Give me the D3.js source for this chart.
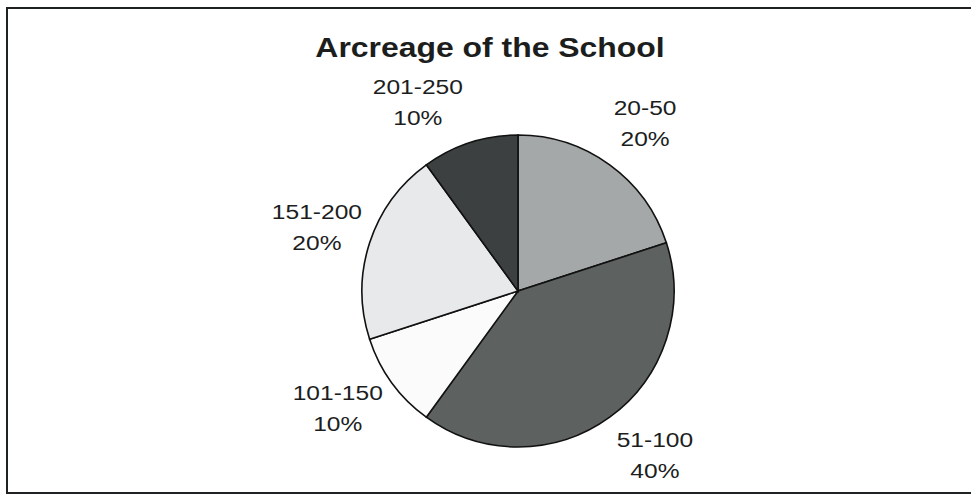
<!DOCTYPE html>
<html>
<head>
<meta charset="utf-8">
<script src="https://cdn.jsdelivr.net/npm/d3@7"></script>
<style>
  body { margin: 0; background: #fff; overflow: hidden; }
  text { font-family: "Liberation Sans", Arial, sans-serif; }
</style>
</head>
<body>
<div id="chart"></div>
<script>
const width = 971;
const height = 495;

// Data
const categories = ["20-50", "51-100", "101-150", "151-200", "201-250"];
const values = [20, 40, 10, 20, 10];
const colors = ["#a4a8a8", "#5d6160", "#fbfbfb", "#e8e9eb", "#3d4040"];

// label placement (degrees clockwise from top, distance from centre)
const labelAngles = [38.3, 141.3, 235.4, 285.8, 331.2];
const labelRadii = [205, 219, 219, 209, 208];

const cx = 518, cy = 291, radius = 156;

const svg = d3.select("#chart")
    .append("svg")
    .attr("width", width)
    .attr("height", height)
    .style("display", "block");

// frame (left, top, bottom; right edge is cut off in the scan)
svg.append("path")
    .attr("d", "M980,8H7V493H980")
    .attr("fill", "none")
    .attr("stroke", "#1e2222")
    .attr("stroke-width", 2);

// Title (scan is slightly stretched horizontally)
svg.append("text")
    .attr("transform", "translate(490,57) scale(1.14,1)")
    .attr("text-anchor", "middle")
    .attr("font-size", 28)
    .attr("font-weight", "bold")
    .attr("fill", "#1c1e1e")
    .text("Arcreage of the School");

const pie = d3.pie().sort(null).value(d => d);
const arcs = pie(values);
const arc = d3.arc().innerRadius(0).outerRadius(radius);

const g = svg.append("g")
    .attr("transform", `translate(${cx},${cy})`);

g.selectAll("path")
    .data(arcs)
    .enter()
    .append("path")
    .attr("d", arc)
    .attr("fill", (d, i) => colors[i])
    .attr("stroke", "#111")
    .attr("stroke-width", 1.6);

// Labels
const labels = g.selectAll("g.label")
    .data(arcs)
    .enter()
    .append("g")
    .attr("class", "label")
    .attr("transform", (d, i) => {
        const p = d3.pointRadial(labelAngles[i] * Math.PI / 180, labelRadii[i]);
        return `translate(${p[0]},${p[1]}) scale(1.17,1)`;
    });

labels.append("text")
    .attr("y", -15)
    .attr("text-anchor", "middle")
    .attr("font-size", 21)
    .attr("fill", "#1c1e1e")
    .text((d, i) => categories[i]);

labels.append("text")
    .attr("y", 16)
    .attr("text-anchor", "middle")
    .attr("font-size", 21)
    .attr("fill", "#1c1e1e")
    .text((d, i) => values[i] + "%");
</script>
</body>
</html>
